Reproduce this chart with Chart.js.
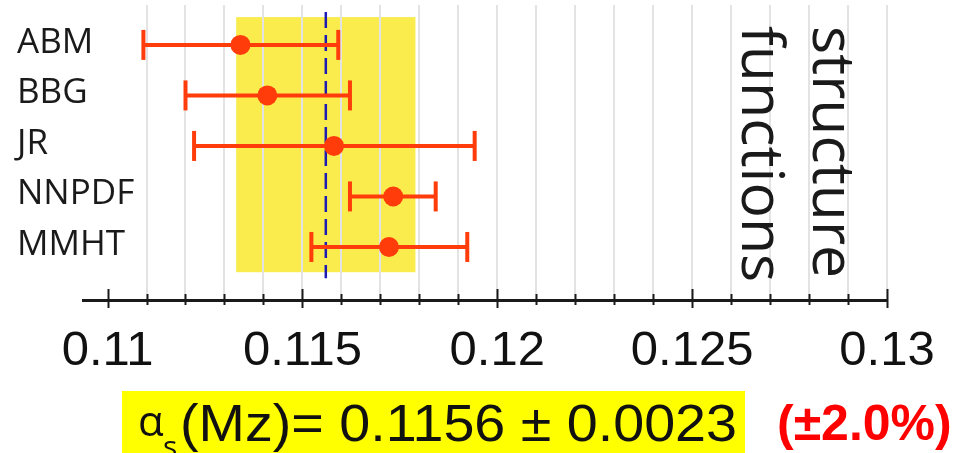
<!DOCTYPE html>
<html>
<head>
<meta charset="utf-8">
<script src="https://cdn.jsdelivr.net/npm/chart.js@4.4.1/dist/chart.umd.min.js"></script>
<style>
  body { margin: 0; background: #fff; }
  #wrap { width: 967px; height: 453px; }
</style>
</head>
<body>
<div id="wrap"><canvas id="myChart" width="967" height="453"></canvas></div>
<script>
"use strict";

// alpha_s(Mz) determinations from PDF fits
var models = ["ABM", "BBG", "JR", "NNPDF", "MMHT"];
var central = [0.11341, 0.11410, 0.11581, 0.11733, 0.11722];
var errLow = [0.11092, 0.11200, 0.11222, 0.11622, 0.11523];
var errHigh = [0.11592, 0.11622, 0.11942, 0.11842, 0.11923];
var tickValues = [0.11, 0.115, 0.12, 0.125, 0.13];
var tickLabels = ["0.11", "0.115", "0.12", "0.125", "0.13"];
var avgValue = 0.1156;
var avgError = 0.0023;
var sideLabels = ["functions", "structure"];
var resultText = "(Mz)= 0.1156 \u00b1 0.0023";
var percentText = "(\u00b12.0%)";

var ORANGE = "#ff3c0a";

var datasets = [];
for (var i = 0; i < models.length; i++) {
    datasets.push({
        type: "line",
        label: models[i] + " error",
        data: [{ x: errLow[i], y: i }, { x: errHigh[i], y: i }],
        borderColor: ORANGE,
        borderWidth: 4,
        pointStyle: "line",
        rotation: 90,
        pointRadius: 15,
        pointBorderWidth: 4,
        pointBorderColor: ORANGE,
        fill: false,
        order: 2
    });
}
datasets.push({
    type: "scatter",
    label: "central",
    data: central.map(function (v, i) { return { x: v, y: i }; }),
    pointRadius: 10,
    backgroundColor: ORANGE,
    borderColor: ORANGE,
    borderWidth: 0,
    order: 1
});
datasets.push({
    type: "line",
    label: "average",
    data: [{ x: avgValue, y: -0.65 }, { x: avgValue, y: 4.62 }],
    borderColor: "#1c1cb4",
    borderWidth: 2.5,
    borderDash: [16, 7],
    pointRadius: 0,
    fill: false,
    order: 3
});

function isMajor(v) {
    return tickValues.some(function (t) { return Math.abs(t - v) < 1e-9; });
}

var decorPlugin = {
    id: "decor",
    beforeDraw: function (chart) {
        var ctx = chart.ctx, xs = chart.scales.x, ys = chart.scales.y;
        // yellow band of the average
        var x1 = xs.getPixelForValue(avgValue - avgError);
        var x2 = xs.getPixelForValue(avgValue + avgError);
        var y1 = ys.getPixelForValue(-0.55);
        var y2 = ys.getPixelForValue(4.5);
        ctx.save();
        ctx.fillStyle = "#f9ec4c";
        ctx.fillRect(x1, y1, x2 - x1, y2 - y1);
        ctx.restore();
    },
    afterDraw: function (chart) {
        var ctx = chart.ctx, xs = chart.scales.x, ys = chart.scales.y;
        var base = chart.chartArea.bottom;
        ctx.save();
        // tick marks through the axis line
        ctx.strokeStyle = "#1a1a1a";
        ctx.lineWidth = 2;
        xs.ticks.forEach(function (t) {
            var px = Math.round(xs.getPixelForValue(t.value)) + 0.5;
            var major = isMajor(t.value);
            ctx.beginPath();
            ctx.moveTo(px, base - (major ? 11 : 6));
            ctx.lineTo(px, base + (major ? 8 : 5));
            ctx.stroke();
        });
        // model names
        ctx.fillStyle = "#1a1a1a";
        ctx.font = '35px "Open Sans"';
        ctx.textAlign = "left";
        ctx.textBaseline = "alphabetic";
        models.forEach(function (m, i) {
            ctx.fillText(m, 17, ys.getPixelForValue(i) + 8);
        });
        // rotated labels
        ctx.font = '59px "Open Sans"';
        [0.12628, 0.1281].forEach(function (v, k) {
            ctx.save();
            ctx.translate(xs.getPixelForValue(v), 26);
            ctx.rotate(Math.PI / 2);
            ctx.fillText(sideLabels[k], 0, 0);
            ctx.restore();
        });
        // result box
        ctx.fillStyle = "#ffff00";
        ctx.fillRect(122, 391, 623, 62);
        ctx.fillStyle = "#111";
        ctx.font = '42px "Open Sans"';
        ctx.fillText("\u03b1", 138, 436);
        ctx.font = '30px "Open Sans"';
        ctx.fillText("s", 163, 457);
        ctx.font = '52px "Liberation Sans"';
        var w = ctx.measureText(resultText).width;
        ctx.save();
        ctx.translate(180, 441);
        ctx.scale((737 - 180) / w, 1);
        ctx.fillText(resultText, 0, 0);
        ctx.restore();
        ctx.fillStyle = "#ff0000";
        ctx.font = 'bold 50px "Liberation Sans"';
        ctx.fillText(percentText, 777, 440);
        ctx.restore();
    }
};

var ctx = document.getElementById("myChart");
var myChart = new Chart(ctx, {
    type: "scatter",
    data: { datasets: datasets },
    options: {
        responsive: false,
        animation: false,
        layout: { autoPadding: false, padding: { left: 83, right: 80, top: 5, bottom: 0 } },
        plugins: { legend: { display: false }, tooltip: { enabled: false } },
        scales: {
            x: {
                type: "linear",
                position: "bottom",
                min: 0.10937,
                max: 0.13,
                afterBuildTicks: function (scale) {
                    var t = [];
                    for (var k = 0; k <= 20; k++) t.push({ value: Math.round((0.11 + k * 0.001) * 1e6) / 1e6 });
                    scale.ticks = t;
                },
                afterFit: function (scale) { scale.height = 153; },
                ticks: {
                    autoSkip: false,
                    maxRotation: 0,
                    padding: 22,
                    color: "#111",
                    font: { family: "Liberation Sans", size: 49 },
                    callback: function (v) {
                        for (var k = 0; k < tickValues.length; k++) {
                            if (Math.abs(tickValues[k] - v) < 1e-9) return tickLabels[k];
                        }
                        return "";
                    }
                },
                grid: {
                    drawTicks: false,
                    lineWidth: 2,
                    color: function (c) {
                        if (c.tick && Math.abs(c.tick.value - 0.11) < 1e-9) return "rgba(0,0,0,0)";
                        return "#e3e3e3";
                    }
                },
                border: { display: true, color: "#1a1a1a", width: 3 }
            },
            y: {
                type: "linear",
                reverse: true,
                min: -0.79,
                max: 5.05,
                display: false
            }
        }
    },
    plugins: [decorPlugin]
});
</script>
</body>
</html>
